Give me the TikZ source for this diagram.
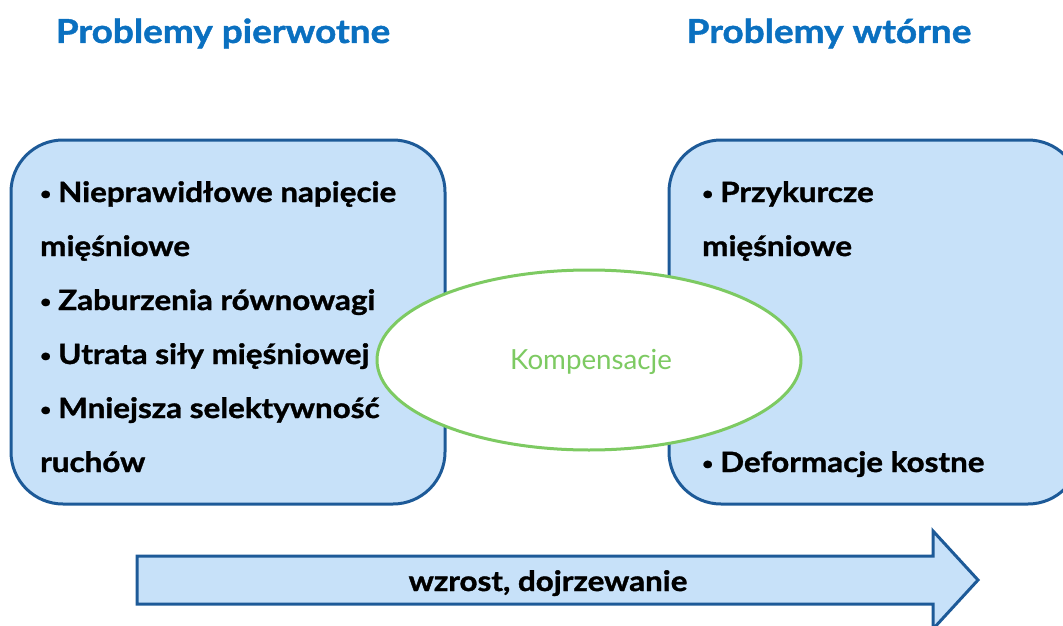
\documentclass[tikz,border=0pt]{standalone}
\usepackage{fontspec}
\setmainfont{Lato}
\newfontfamily\wideb{Lato}[FakeStretch=1.12, BoldFeatures={FakeBold=1.3}]
\usetikzlibrary{shapes.geometric}
\definecolor{boxfill}{HTML}{C7E1F9}
\definecolor{boxline}{HTML}{1D5A98}
\definecolor{headblue}{HTML}{0A70C0}
\definecolor{kgreen}{HTML}{7DCA62}
\newcommand{\bul}{\raisebox{2.5pt}{\fontsize{17}{17}\selectfont •}\hspace{7pt}}
\tikzset{
  heading/.style={anchor=base, text=headblue, font=\wideb\bfseries\fontsize{33}{33}\selectfont, inner sep=0pt},
  item/.style={anchor=base west, font=\wideb\bfseries\fontsize{28}{28}\selectfont, inner sep=0pt},
  panel/.style={draw=boxline, line width=3pt, fill=boxfill, rounded corners=52pt},
}
\begin{document}
\begin{tikzpicture}[x=1pt,y=-1pt]
\useasboundingbox (0,0) rectangle (1063,626);
\clip (0,0) rectangle (1063,626);
\node[heading] (h1) at (223,43) {Problemy pierwotne};
\node[heading] (h2) at (829,43) {Problemy wtórne};
\draw[panel] (11,140) rectangle (445,504);
\draw[panel] (669,140) rectangle (1080,504);
\node[ellipse, draw=kgreen, line width=3pt, fill=white, minimum width=424pt, minimum height=180pt, inner sep=0pt] (komp) at (589,360) {};
\node[anchor=base, text=kgreen, font=\fontsize{27.7}{28}\selectfont, inner sep=0pt] (ktext) at (591,369) {Kompensacje};
\node[item] (l1) at (40,202) {\bul Nieprawidłowe napięcie};
\node[item] (l2) at (40,256) {mięśniowe};
\node[item] (l3) at (40,310) {\bul Zaburzenia równowagi};
\node[item] (l4) at (40,364) {\bul Utrata siły mięśniowej};
\node[item] (l5) at (40,418) {\bul Mniejsza selektywność};
\node[item] (l6) at (40,472) {ruchów};
\node[item] (r1) at (702,202) {\bul Przykurcze};
\node[item] (r2) at (702,256) {mięśniowe};
\node[item] (r3) at (702,472) {\bul Deformacje kostne};
\draw[draw=boxline, line width=3pt, fill=boxfill, line join=miter]
  (137,556) -- (933,556) -- (933,531) -- (978,580) -- (933,629) -- (933,604) -- (137,604) -- cycle;
\node[anchor=base, font=\wideb\bfseries\fontsize{28}{28}\selectfont, inner sep=0pt] (arr) at (548,591) {wzrost, dojrzewanie};
\end{tikzpicture}
\end{document}
